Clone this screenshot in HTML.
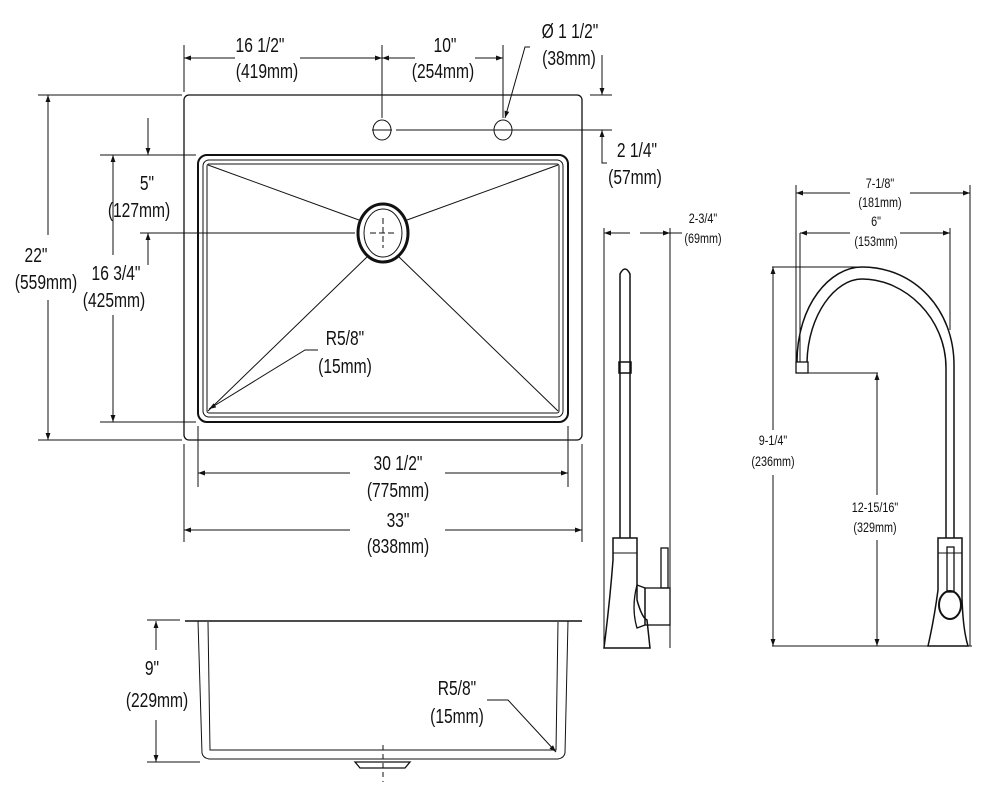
<!DOCTYPE html>
<html><head><meta charset="utf-8"><style>
html,body{margin:0;padding:0;background:#fff}
svg{display:block}
text{font-family:"Liberation Sans Narrow","Liberation Sans",sans-serif;fill:#111;text-anchor:middle;transform-box:fill-box;transform-origin:center}
.t{font-size:20px;transform:scaleX(0.78)}
.s{font-size:13.5px;transform:scaleX(0.8)}
</style></head><body>
<svg width="990" height="806" viewBox="0 0 990 806" xmlns="http://www.w3.org/2000/svg">
<defs>
<marker id="a" viewBox="0 0 10 10" refX="10" refY="5" markerWidth="9" markerHeight="7" orient="auto-start-reverse" markerUnits="userSpaceOnUse"><path d="M0,1.5 L10,5 L0,8.5 z" fill="#111"/></marker>
</defs>
<g stroke="#111" fill="none" stroke-width="1">
<rect x="184" y="95" width="398" height="345" rx="5" stroke-width="1.3"/>
<ellipse cx="382" cy="130" rx="9" ry="10"/>
<ellipse cx="503" cy="130" rx="9" ry="10"/>
<line x1="372" y1="130" x2="392" y2="130"/>
<line x1="396" y1="130" x2="612" y2="130"/>
<rect x="198" y="155" width="370" height="267" rx="9" stroke-width="2"/>
<rect x="203" y="160" width="360" height="257" rx="6" stroke-width="1"/>
<rect x="207" y="164" width="352" height="249" rx="2" stroke-width="1"/>
<ellipse cx="383" cy="233" rx="25" ry="29" stroke-width="3"/>
<ellipse cx="383" cy="233" rx="19" ry="24"/>
<line x1="208" y1="165" x2="359" y2="220"/>
<line x1="558" y1="165" x2="407" y2="220"/>
<line x1="208" y1="411" x2="368" y2="256"/>
<line x1="558" y1="411" x2="398" y2="256"/>
<line x1="370" y1="233" x2="396" y2="233" stroke-dasharray="6,3"/>
<line x1="383" y1="218" x2="383" y2="248" stroke-dasharray="6,3"/>
<line x1="184" y1="45" x2="184" y2="92"/>
<line x1="382" y1="45" x2="382" y2="118"/>
<line x1="503" y1="45" x2="503" y2="118"/>
<line x1="235" y1="58" x2="184" y2="58" marker-end="url(#a)"/>
<line x1="300" y1="58" x2="382" y2="58" marker-end="url(#a)"/>
<line x1="415" y1="58" x2="382" y2="58" marker-end="url(#a)"/>
<line x1="475" y1="58" x2="503" y2="58" marker-end="url(#a)"/>
<polyline points="530,47 525,47 505,118" marker-end="url(#a)"/>
<line x1="590" y1="95" x2="612" y2="95"/>
<line x1="602" y1="55" x2="602" y2="95" marker-end="url(#a)"/>
<polyline points="607,163 602,163 602,130" marker-end="url(#a)"/>
<line x1="38" y1="95" x2="182" y2="95"/>
<line x1="38" y1="440" x2="182" y2="440"/>
<line x1="48" y1="235" x2="48" y2="95" marker-end="url(#a)"/>
<line x1="48" y1="300" x2="48" y2="440" marker-end="url(#a)"/>
<line x1="100" y1="155" x2="196" y2="155"/>
<line x1="100" y1="422" x2="196" y2="422"/>
<line x1="140" y1="233" x2="355" y2="233"/>
<line x1="148" y1="118" x2="148" y2="155" marker-end="url(#a)"/>
<line x1="148" y1="265" x2="148" y2="233" marker-end="url(#a)"/>
<line x1="113" y1="255" x2="113" y2="155" marker-end="url(#a)"/>
<line x1="113" y1="315" x2="113" y2="422" marker-end="url(#a)"/>
<polyline points="318,350 305,350 209,409" marker-end="url(#a)"/>
<line x1="198" y1="426" x2="198" y2="487"/>
<line x1="568" y1="426" x2="568" y2="487"/>
<line x1="350" y1="473" x2="198" y2="473" marker-end="url(#a)"/>
<line x1="445" y1="473" x2="568" y2="473" marker-end="url(#a)"/>
<line x1="184" y1="444" x2="184" y2="542"/>
<line x1="582" y1="444" x2="582" y2="542"/>
<line x1="350" y1="530" x2="184" y2="530" marker-end="url(#a)"/>
<line x1="445" y1="530" x2="582" y2="530" marker-end="url(#a)"/>

<line x1="185" y1="621" x2="582" y2="621" stroke-width="1.5"/>
<path d="M198,621 L202,753 Q203,758 209,759 L558,759 Q564,758 565,753 L568,621"/>
<path d="M208,622 L210,750 L556,750 L558,622"/>
<path d="M355,762 L360,768 L405,768 L410,762 Z" stroke-width="1.3"/>
<line x1="383" y1="745" x2="383" y2="782" stroke-dasharray="5,4"/>
<line x1="147" y1="620" x2="180" y2="620"/>
<line x1="147" y1="762" x2="200" y2="762"/>
<line x1="156" y1="650" x2="156" y2="621" marker-end="url(#a)"/>
<line x1="156" y1="720" x2="156" y2="762" marker-end="url(#a)"/>
<polyline points="487,700 508,700 556,752" marker-end="url(#a)"/>

<line x1="604" y1="228" x2="604" y2="648"/>
<line x1="670" y1="228" x2="670" y2="648"/>
<line x1="630" y1="233" x2="604" y2="233" marker-end="url(#a)"/>
<line x1="640" y1="233" x2="670" y2="233" marker-end="url(#a)"/>
<line x1="670" y1="233" x2="682" y2="233"/>
<path d="M620,538 L620,274 Q625,264 630,274 L630,538" stroke-width="1.5"/>
<rect x="619" y="362" width="12" height="11" stroke-width="1.5"/>
<path d="M613,538 L637,538 L637,600 Q642,618 647,620 L650,648 L604,648 Q610,600 613,560 Z" stroke-width="1.5"/>
<line x1="613" y1="553" x2="637" y2="553"/>
<path d="M637,585 L645,588 L645,625 L637,628 Q631,608 637,585Z" stroke-width="1.3"/>
<rect x="645" y="588" width="25" height="37" stroke-width="1.3"/>
<rect x="661" y="548" width="7" height="40" stroke-width="1.3"/>

<line x1="796" y1="185" x2="796" y2="362"/>
<line x1="970" y1="185" x2="970" y2="646"/>
<line x1="850" y1="193" x2="796" y2="193" marker-end="url(#a)"/>
<line x1="910" y1="193" x2="970" y2="193" marker-end="url(#a)"/>
<line x1="800" y1="233" x2="800" y2="362"/>
<line x1="950" y1="228" x2="950" y2="330"/>
<line x1="850" y1="233" x2="800" y2="233" marker-end="url(#a)"/>
<line x1="900" y1="233" x2="950" y2="233" marker-end="url(#a)"/>
<line x1="772" y1="267" x2="862" y2="267"/>
<line x1="772" y1="646" x2="972" y2="646"/>
<line x1="773" y1="430" x2="773" y2="267" marker-end="url(#a)"/>
<line x1="773" y1="475" x2="773" y2="646" marker-end="url(#a)"/>
<line x1="808" y1="373" x2="878" y2="373"/>
<line x1="877" y1="495" x2="877" y2="373" marker-end="url(#a)"/>
<line x1="877" y1="540" x2="877" y2="646" marker-end="url(#a)"/>
<path d="M797,362 C797,305 830,267 862,267 C915,267 954,310 954,365 L954,538" stroke-width="1.5"/>
<path d="M807,362 C808,315 835,279 862,279 C905,279 946,318 946,368 L946,538" stroke-width="1.5"/>
<rect x="796" y="362" width="12" height="11" stroke-width="1.3"/>
<path d="M938,538 L962,538 L962,598 Q963,630 968,646 L928,646 Q934,620 938,590 Z" stroke-width="1.5"/>
<line x1="938" y1="553" x2="962" y2="553"/>
<rect x="947" y="547" width="7" height="45" stroke-width="1.3"/>
<ellipse cx="950" cy="605" rx="11" ry="14" stroke-width="2"/>
</g>
<g stroke="none">
<text class="t" x="260" y="52">16 1/2"</text>
<text class="t" x="267" y="78">(419mm)</text>
<text class="t" x="445" y="52">10"</text>
<text class="t" x="443" y="78">(254mm)</text>
<text class="t" x="570" y="38">Ø 1 1/2"</text>
<text class="t" x="569" y="65">(38mm)</text>
<text class="t" x="637" y="157">2 1/4"</text>
<text class="t" x="635" y="184">(57mm)</text>
<text class="t" x="36" y="262">22"</text>
<text class="t" x="46" y="289">(559mm)</text>
<text class="t" x="147" y="190">5"</text>
<text class="t" x="139" y="217">(127mm)</text>
<text class="t" x="116" y="280">16 3/4"</text>
<text class="t" x="114" y="307">(425mm)</text>
<text class="t" x="345" y="345">R5/8"</text>
<text class="t" x="345" y="373">(15mm)</text>
<text class="t" x="398" y="470">30 1/2"</text>
<text class="t" x="398" y="497">(775mm)</text>
<text class="t" x="398" y="527">33"</text>
<text class="t" x="398" y="553">(838mm)</text>
<text class="t" x="152" y="675">9"</text>
<text class="t" x="157" y="707">(229mm)</text>
<text class="t" x="457" y="695">R5/8"</text>
<text class="t" x="457" y="723">(15mm)</text>
<text class="s" x="703" y="223">2-3/4"</text>
<text class="s" x="703" y="243">(69mm)</text>
<text class="s" x="880" y="188">7-1/8"</text>
<text class="s" x="880" y="207">(181mm)</text>
<text class="s" x="876" y="226">6"</text>
<text class="s" x="876" y="246">(153mm)</text>
<text class="s" x="773" y="445">9-1/4"</text>
<text class="s" x="773" y="466">(236mm)</text>
<text class="s" x="875" y="512">12-15/16"</text>
<text class="s" x="875" y="532">(329mm)</text>
</g>
</svg>
</body></html>
